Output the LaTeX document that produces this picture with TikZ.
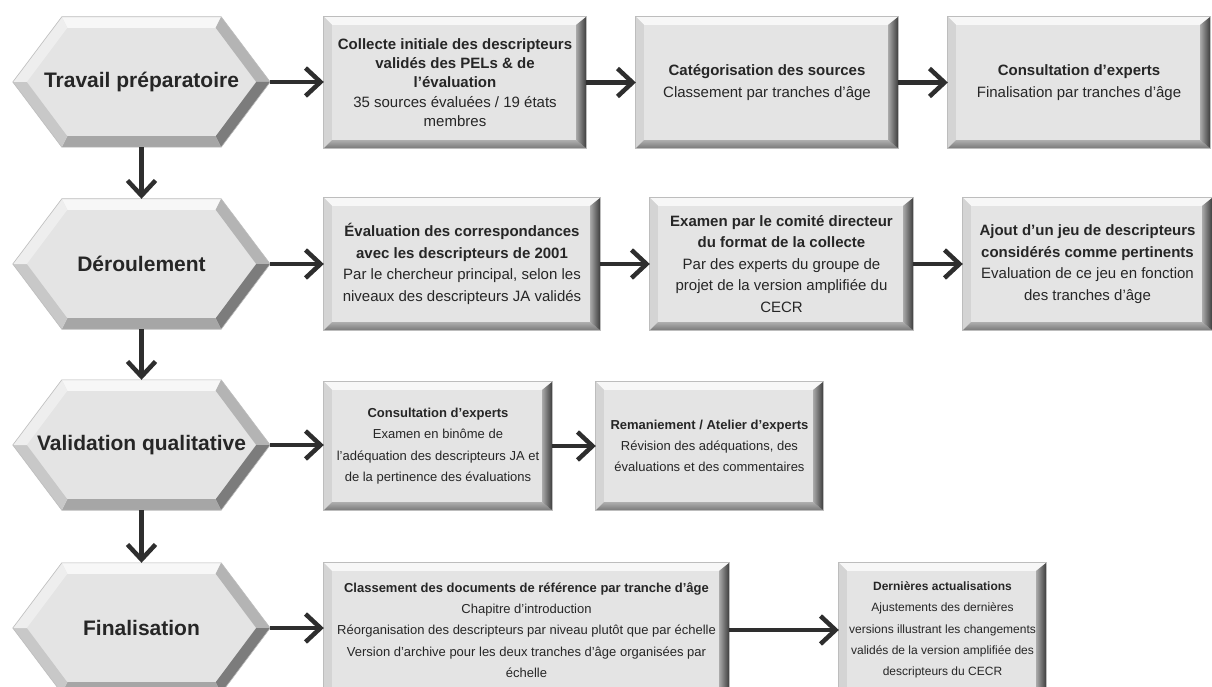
\documentclass[tikz,border=0pt]{standalone}
\usepackage{fontspec}
\setmainfont{Liberation Sans}
\usetikzlibrary{arrows.meta}
\pgfdeclarelayer{background}
\pgfsetlayers{background,main}
\definecolor{face}{HTML}{E4E4E4}
\definecolor{txt}{HTML}{262626}
\definecolor{arrowc}{HTML}{2E2E2E}
\definecolor{btop}{HTML}{F7F7F7}
\definecolor{bleft}{HTML}{D4D4D4}
\definecolor{bbotin}{HTML}{ADADAD}
\definecolor{bbotout}{HTML}{7A7A7A}
\definecolor{brightin}{HTML}{A8A8A8}
\definecolor{brightout}{HTML}{3C3C3C}
\definecolor{edgec}{HTML}{BDBDBD}
\definecolor{hUL}{HTML}{EEEEEE}
\definecolor{hLL}{HTML}{C8C8C8}
\definecolor{hB}{HTML}{A6A6A6}
\definecolor{hLR}{HTML}{7C7C7C}
\definecolor{hUR}{HTML}{B4B4B4}

\tikzset{
  stepbox/.style={rectangle, inner sep=0pt, align=center, text=txt, font=\fontsize{15}{21.5}\selectfont},
  smallbox/.style={stepbox, font=\fontsize{13}{21.3}\selectfont},
  phase/.style={rectangle, inner sep=0pt, minimum width=257pt, minimum height=130pt, text=txt, font=\bfseries\fontsize{21}{25}\selectfont},
  flow/.style={draw=arrowc, line width=4.5pt, -{Straight Barb[length=15pt,width=28pt]}},
}

\newcommand\bevbox[1]{%
\begin{pgfonlayer}{background}
\begin{scope}
\clip (0,0) rectangle (1212,687);
\fill[face] (#1.north west) rectangle (#1.south east);
\fill[btop] (#1.north west) -- (#1.north east) -- ([shift={(-10pt,-8pt)}]#1.north east) -- ([shift={(8pt,-8pt)}]#1.north west) -- cycle;
\fill[bleft] (#1.north west) -- ([shift={(8pt,-8pt)}]#1.north west) -- ([shift={(8pt,8pt)}]#1.south west) -- (#1.south west) -- cycle;
\shade[top color=bbotin, bottom color=bbotout] (#1.south west) -- ([shift={(8pt,8pt)}]#1.south west) -- ([shift={(-10pt,8pt)}]#1.south east) -- (#1.south east) -- cycle;
\shade[left color=brightin, right color=brightout] (#1.north east) -- ([shift={(-10pt,-8pt)}]#1.north east) -- ([shift={(-10pt,8pt)}]#1.south east) -- (#1.south east) -- cycle;
\draw[edgec, line width=0.8pt] (#1.north west) rectangle (#1.south east);
\end{scope}
\end{pgfonlayer}}

\newcommand\bevhex[1]{%
\begin{pgfonlayer}{background}
\begin{scope}
\clip (0,0) rectangle (1212,687);
\coordinate (oW) at (#1.west);
\coordinate (oNW) at ([xshift=49pt]#1.north west);
\coordinate (oNE) at ([xshift=-49pt]#1.north east);
\coordinate (oE) at (#1.east);
\coordinate (oSE) at ([xshift=-49pt]#1.south east);
\coordinate (oSW) at ([xshift=49pt]#1.south west);
\coordinate (iW) at ([xshift=14pt]oW);
\coordinate (iNW) at ([shift={(5.5pt,-11pt)}]oNW);
\coordinate (iNE) at ([shift={(-5.5pt,-11pt)}]oNE);
\coordinate (iE) at ([xshift=-14pt]oE);
\coordinate (iSE) at ([shift={(-5.5pt,11pt)}]oSE);
\coordinate (iSW) at ([shift={(5.5pt,11pt)}]oSW);
\fill[face] (oW) -- (oNW) -- (oNE) -- (oE) -- (oSE) -- (oSW) -- cycle;
\fill[btop] (oNW) -- (oNE) -- (iNE) -- (iNW) -- cycle;
\fill[hUR] (oNE) -- (oE) -- (iE) -- (iNE) -- cycle;
\fill[hLR] (oE) -- (oSE) -- (iSE) -- (iE) -- cycle;
\fill[hB] (oSE) -- (oSW) -- (iSW) -- (iSE) -- cycle;
\fill[hLL] (oSW) -- (oW) -- (iW) -- (iSW) -- cycle;
\fill[hUL] (oW) -- (oNW) -- (iNW) -- (iW) -- cycle;
\draw[edgec, line width=0.6pt] (oW) -- (oNW) -- (oNE) -- (oE) -- (oSE) -- (oSW) -- cycle;
\end{scope}
\end{pgfonlayer}}

\begin{document}
\begin{tikzpicture}[x=1pt, y=-1pt]
\useasboundingbox (0,0) rectangle (1212,687);
\begin{pgfonlayer}{background}
\fill[white] (0,0) rectangle (1212,687);
\end{pgfonlayer}

% phases
\node[phase] (h1) at (141.5,82) {Travail préparatoire};
\node[phase] (h2) at (141.5,264) {Déroulement};
\node[phase] (h3) at (141.5,445) {Validation qualitative};
\node[phase] (h4) at (141.5,628) {Finalisation};
\bevhex{h1}\bevhex{h2}\bevhex{h3}\bevhex{h4}

% row 1
\node[stepbox, minimum width=262pt, minimum height=131pt, font=\fontsize{15}{19.2}\selectfont] (b11) at (455,82.5)
 {\textbf{Collecte initiale des descripteurs}\\\textbf{validés des PELs \& de}\\\textbf{l’évaluation}\\35 sources évaluées / 19 états\\membres};
\node[stepbox, minimum width=262pt, minimum height=131pt] (b12) at (767,82.5)
 {\textbf{Catégorisation des sources}\\Classement par tranches d’âge};
\node[stepbox, minimum width=262pt, minimum height=131pt] (b13) at (1079,82.5)
 {\textbf{Consultation d’experts}\\Finalisation par tranches d’âge};

% row 2
\node[stepbox, minimum width=276pt, minimum height=132pt] (b21) at (462,264)
 {\textbf{Évaluation des correspondances}\\\textbf{avec les descripteurs de 2001}\\Par le chercheur principal, selon les\\niveaux des descripteurs JA validés};
\node[stepbox, minimum width=263pt, minimum height=132pt] (b22) at (781.5,264)
 {\textbf{Examen par le comité directeur}\\\textbf{du format de la collecte}\\Par des experts du groupe de\\projet de la version amplifiée du\\CECR};
\node[stepbox, minimum width=249pt, minimum height=132pt] (b23) at (1087.5,264)
 {\textbf{Ajout d’un jeu de descripteurs}\\\textbf{considérés comme pertinents}\\Evaluation de ce jeu en fonction\\des tranches d’âge};

% row 3
\node[smallbox, minimum width=228pt, minimum height=128pt] (b31) at (438,446)
 {\textbf{Consultation d’experts}\\Examen en binôme de\\l’adéquation des descripteurs JA et\\de la pertinence des évaluations};
\node[smallbox, minimum width=227pt, minimum height=128pt] (b32) at (709.5,446)
 {\textbf{Remaniement / Atelier d’experts}\\Révision des adéquations, des\\évaluations et des commentaires};

% row 4
\node[smallbox, minimum width=405pt, minimum height=134pt] (b41) at (526.5,630)
 {\textbf{Classement des documents de référence par tranche d’âge}\\Chapitre d’introduction\\Réorganisation des descripteurs par niveau plutôt que par échelle\\Version d’archive pour les deux tranches d’âge organisées par\\échelle};
\node[smallbox, minimum width=207pt, minimum height=134pt, font=\fontsize{12}{21.3}\selectfont] (b42) at (942.5,630)
 {\textbf{Dernières actualisations}\\Ajustements des dernières\\versions illustrant les changements\\validés de la version amplifiée des\\descripteurs du CECR};

\bevbox{b11}\bevbox{b12}\bevbox{b13}
\bevbox{b21}\bevbox{b22}\bevbox{b23}
\bevbox{b31}\bevbox{b32}
\bevbox{b41}\bevbox{b42}

% connectors
\draw[flow] (h1.east) -- (h1.east -| b11.west);
\draw[flow] (b11.east) -- (b12.west);
\draw[flow] (b12.east) -- (b13.west);
\draw[flow] (h2.east) -- (h2.east -| b21.west);
\draw[flow] (b21.east) -- (b22.west);
\draw[flow] (b22.east) -- (b23.west);
\draw[flow] (h3.east) -- (h3.east -| b31.west);
\draw[flow] (b31.east) -- (b32.west);
\draw[flow] (h4.east) -- (h4.east -| b41.west);
\draw[flow] (b41.east) -- (b42.west);
\draw[flow] (h1.south) -- (h2.north);
\draw[flow] (h2.south) -- (h3.north);
\draw[flow] (h3.south) -- (h4.north);
\end{tikzpicture}
\end{document}
